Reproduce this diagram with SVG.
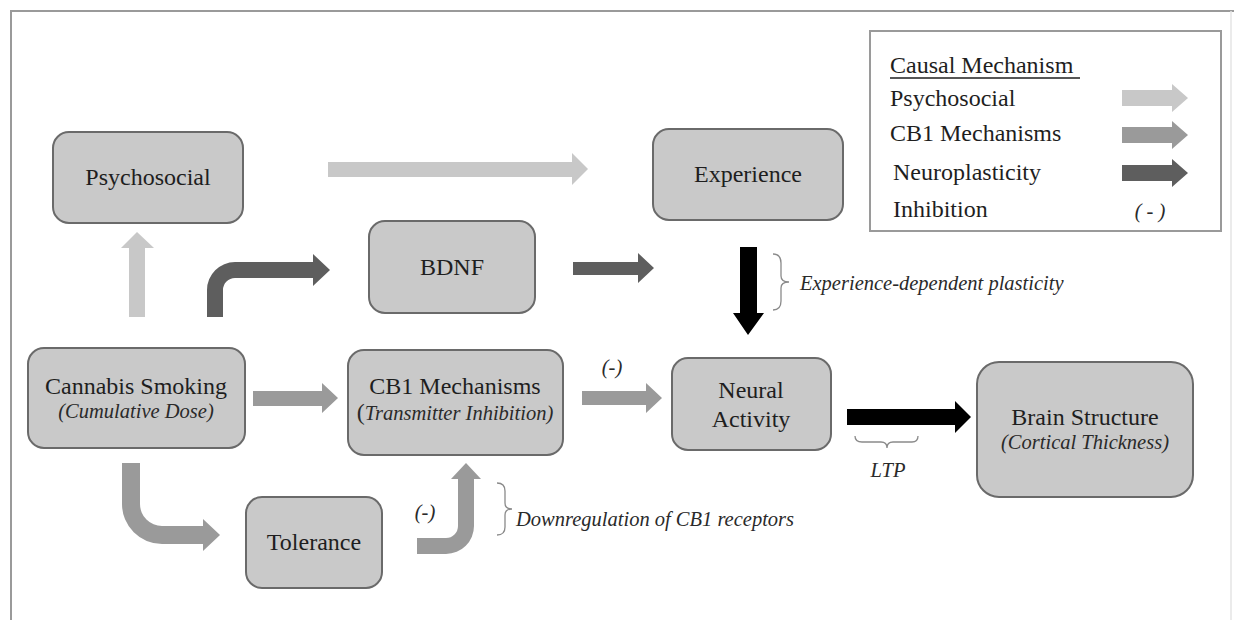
<svg xmlns="http://www.w3.org/2000/svg" width="1234" height="620" viewBox="0 0 1234 620" font-family="'Liberation Serif', 'Times New Roman', serif">
<style>
text{font-family:'Liberation Serif','Times New Roman',serif}
.box{fill:#c9c9c9;stroke:#6a6a6a;stroke-width:2}
.t{font-size:24px;fill:#1e1e1e;text-anchor:middle}
.i{font-size:20.5px;font-style:italic;fill:#2a2a2a}
.lg{font-size:24px;fill:#1e1e1e}
.light{fill:#c8c8c8}
.mid{fill:#9a9a9a}
.dark{fill:#5e5e5e}
.blk{fill:#000}
.brace{fill:none;stroke:#8a8a8a;stroke-width:1.3}
</style>
<rect x="0" y="0" width="1234" height="620" fill="#fff"/>
<g id="frame">
<path d="M11,620 L11,11 L1234,11" fill="none" stroke="#9a9a9a" stroke-width="2"/>
<line x1="1231" y1="11" x2="1231" y2="620" stroke="#e4e4e4" stroke-width="1.5"/>
</g>
<g id="legend">
<rect x="870" y="31" width="351" height="200" fill="#fff" stroke="#9a9a9a" stroke-width="2"/>
<text class="lg" x="890" y="73">Causal Mechanism</text>
<line x1="890" y1="78" x2="1080" y2="78" stroke="#1e1e1e" stroke-width="1.3"/>
<text class="lg" x="890" y="106">Psychosocial</text>
<text class="lg" x="890" y="141">CB1 Mechanisms</text>
<text class="lg" x="893" y="180">Neuroplasticity</text>
<text class="lg" x="893" y="217">Inhibition</text>
<polygon class="light" points="1122,90 1172,90 1172,84 1188,98 1172,112 1172,106 1122,106"/>
<polygon class="mid" points="1122,127 1172,127 1172,121 1188,135 1172,149 1172,143 1122,143"/>
<polygon class="dark" points="1122,165 1172,165 1172,159 1188,173 1172,187 1172,181 1122,181"/>
<text class="i" x="1150" y="218" text-anchor="middle" font-size="22px">( - )</text>
</g>
<g id="connectors">
<polygon id="c-psy-exp" class="light" points="328,162 572,162 572,153 588,169 572,185 572,177 328,177"/>
<polygon id="c-can-psy" class="light" points="129,317 129,248 121,248 137,232 154,248 145,248 145,317"/>
<path id="c-can-bdnf" class="dark" d="M207,317 L207,290 A28,28 0 0 1 235,262 L313,262 L313,254 L330,270 L313,286 L313,278 L235,278 A12,12 0 0 0 223,290 L223,317 Z"/>
<polygon id="c-bdnf-nr" class="dark" points="573,262 638,262 638,253 654,268 638,283 638,275 573,275"/>
<polygon id="c-exp-nr" class="blk" points="740,247 757,247 757,313 764,313 748,335 733,313 740,313"/>
<polygon id="c-can-cb1" class="mid" points="253,391 322,391 322,383 338,398 322,413 322,406 253,406"/>
<polygon id="c-cb1-nr" class="mid" points="582,391 646,391 646,383 662,398 646,413 646,405 582,405"/>
<path id="c-can-tol" class="mid" d="M122,463 L140,463 L140,504 A22,22 0 0 0 162,526 L203,526 L203,519 L220,535 L203,551 L203,544 L162,544 A40,40 0 0 1 122,504 Z"/>
<path id="c-tol-cb1" class="mid" d="M417,538 L446,538 A12,12 0 0 0 458,526 L458,479 L451,479 L466,463 L481,479 L474,479 L474,526 A28,28 0 0 1 446,554 L417,554 Z"/>
<polygon id="c-nr-brain" class="blk" points="847,409 955,409 955,401 971,417 955,433 955,425 847,425"/>
<path class="brace" d="M773,254 Q781,254 781,263 L781,276 Q781,282 789,282 Q781,282 781,288 L781,301 Q781,310 773,310"/>
<path class="brace" d="M497,483 Q505,483 505,491 L505,503 Q505,509 512,509 Q505,509 505,515 L505,527 Q505,535 497,535"/>
<path class="brace" d="M855,436 Q855,442 862,442 L881,442 Q887,442 887,448 Q887,442 893,442 L912,442 Q918,442 918,436"/>
<text class="i" x="800" y="290">Experience-dependent plasticity</text>
<text class="i" x="516" y="526">Downregulation of CB1 receptors</text>
<text class="i" x="888" y="477" text-anchor="middle">LTP</text>
<text class="i" x="612" y="374" text-anchor="middle" font-size="22px">(-)</text>
<text class="i" x="425" y="519" text-anchor="middle" font-size="22px">(-)</text>
</g>
<g id="psychosocial">
<rect class="box" x="53" y="132" width="190" height="91" rx="16"/>
<text class="t" x="148" y="185">Psychosocial</text>
</g>
<g id="experience">
<rect class="box" x="653" y="129" width="190" height="91" rx="16"/>
<text class="t" x="748" y="182">Experience</text>
</g>
<g id="bdnf">
<rect class="box" x="369" y="221" width="166" height="92" rx="16"/>
<text class="t" x="452" y="275">BDNF</text>
</g>
<g id="cannabis">
<rect class="box" x="28" y="348" width="217" height="100" rx="16"/>
<text class="t" x="136" y="394">Cannabis Smoking</text>
<text class="i" x="136" y="418" text-anchor="middle">(Cumulative Dose)</text>
</g>
<g id="cb1">
<rect class="box" x="348" y="350" width="215" height="105" rx="16"/>
<text class="t" x="455" y="394">CB1 Mechanisms</text>
<text class="i" x="455" y="420" text-anchor="middle"><tspan font-style="normal" font-size="24px">(</tspan>Transmitter Inhibition)</text>
</g>
<g id="tolerance">
<rect class="box" x="246" y="497" width="136" height="91" rx="16"/>
<text class="t" x="314" y="550">Tolerance</text>
</g>
<g id="neural">
<rect class="box" x="672" y="358" width="159" height="92" rx="16"/>
<text class="t" x="751" y="398">Neural</text>
<text class="t" x="751" y="427">Activity</text>
</g>
<g id="brain">
<rect class="box" x="977" y="362" width="216" height="135" rx="22"/>
<text class="t" x="1085" y="425">Brain Structure</text>
<text class="i" x="1085" y="449" text-anchor="middle">(Cortical Thickness)</text>
</g>
</svg>
